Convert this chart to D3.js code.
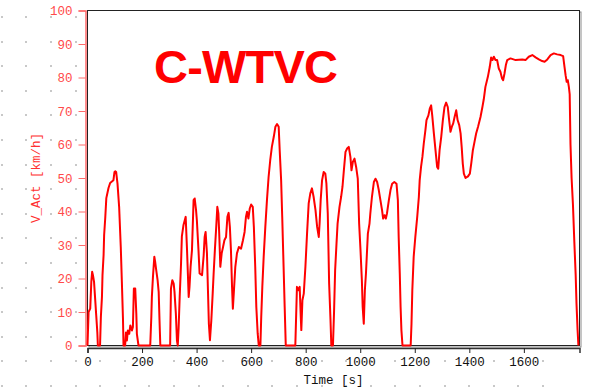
<!DOCTYPE html>
<html><head><meta charset="utf-8">
<script src="https://cdn.jsdelivr.net/npm/d3@7"></script>
<style>html,body{margin:0;padding:0;background:#fff;}svg{display:block;}</style>
</head><body>
<svg id="c" width="596" height="389"></svg>
<script>
const timeS = [0,2,4,10,14,17,20,24,28,32,36,38,46,49,53,55,59,61,65,69,77,83,95,99,102,105,110,116,122,126,130,132,138,141,144.5,148,153,157,163,166.5,170,175,179,181,187,230,234,236,240,245,248,252,257,261,264,267,303,306,311,316,319,324,328,331,334,338,343,346,352,360,365,368,371,374,378,383,389,393,398,401,407,411,420,426,429.5,433,438,442,445,449,454,459,462.5,467,472,476,480,483,487,492,497,502,508,513,517.5,522,526,530,533,537,542,548,555,563,570,576,581,585,590,595,600,606,610,615,619,624,628,634,637,641,646,652,658,664,670,676,683,689,695,701,705,710,714,719,723,727,762,768,774,778,782,784,788,793,799,805,811,817,823,829,836,842,848,851,855,860,866,872,876,881,886,891,894,900,904,908,913,917,924,930,935,940,946,952,958,964,968,973,979,985,991,996,1001,1006,1009,1013,1017,1021,1028,1034,1037,1043,1050,1056,1062,1068,1074,1080,1084,1089,1094,1098,1105,1111,1117,1125,1133,1138,1141,1145,1148,1151,1155,1185,1188,1191,1196,1202,1209,1215,1218,1223,1228,1233,1239,1243,1250,1255,1260,1264,1270,1276,1282,1286,1291,1297,1303,1309,1315,1321,1326,1331,1336,1341,1346,1352,1357,1363,1368,1372,1376,1380,1386,1395,1402,1407,1413,1419,1425,1432,1441,1448,1453,1459,1468,1475,1480,1485,1490,1496,1502,1508,1514,1520,1524,1529,1534,1539,1551,1570,1594,1606,1618,1631,1643,1655,1667,1676,1686,1698,1710,1722,1735,1744,1749,1753,1757,1761,1765,1768,1771,1775,1780,1785,1790,1793,1797,1800];
const speedKmh = [0,5,10,11,19,22,21,19,14,9,4,0,0,8.5,14.5,21,27,33,38,44,47,48.5,49.3,51.8,52,51.8,48.3,41.4,29.4,19,8.2,0,0,3.9,1.5,4.5,3.5,6,4.5,5.5,17,17,9.5,3.5,0,0,8.5,14.5,20.5,26.5,25,22.5,19.5,16,7.6,0,0,17,19.5,18.5,16,9.5,1.5,0,5,14.5,24.5,32.6,36,38.4,28.4,21.5,14.5,17.5,23.5,28.4,43.4,43.9,40.4,37.4,28.4,21.5,21,27,32.4,33.9,27.5,15.5,6.5,1.6,7.5,15.5,21.5,28.4,35.4,41.4,39.4,33.4,23.5,27.5,29.4,31.4,32.4,38.4,39.6,35.4,28.4,17.5,11,16.5,23.5,27.5,29.4,28.9,31.4,33.9,38.4,39.9,37.9,40.9,42.1,41.4,35.4,23.5,11.5,3.6,0,0,8.5,17.5,26.5,35.4,43.4,50.3,55.3,59.3,62.3,65.3,66.1,65.3,57.8,49.3,38.4,23.5,11.5,0,0,17.5,16.5,17.5,8.5,4.6,13.5,15.5,23.5,33.4,42.4,45.4,46.9,44.4,40.4,35.4,32.4,36.4,43.4,49.3,51.8,51.3,48.3,39.4,18.5,7.6,0,0,10,22.5,30.4,36.4,41.4,44.4,47.4,52.3,57.8,58.8,59.3,56.3,52.3,54.8,55.8,53.3,49.8,36.4,28.5,19.5,11.5,6.5,16.5,21.5,33.4,36.4,39.4,44.4,48.8,49.8,48.8,46.4,43.4,40.4,37.9,38.9,37.9,39.4,43.4,46.4,48.3,48.8,48.3,43.4,32.4,21.5,11.5,4.6,0,0,6.5,16.5,26.5,32.4,38.4,44.4,49.3,53.3,56.3,60.3,64.3,67.3,68.7,70.7,71.7,68.7,63.3,58.3,53.3,52.8,58.3,62.3,67.3,71.2,72.5,71.2,67.3,63.8,65.3,66.3,68.2,70.2,67.3,65.8,63.3,59.3,54.3,51.3,50,50.5,51.3,54.3,58.3,60.8,63.3,65.3,68.2,71.2,73.5,77.2,80.2,83.2,86,85.2,86.2,85.2,85.2,82.7,81.7,79.7,79.2,81.2,83.7,85.2,85.7,85.2,85.4,85.2,86.2,86.7,86,85.4,84.9,84.7,85.4,86.7,87.2,86.9,86.7,86.4,83.2,80.7,78.7,79.2,77.2,75,60,50,42,31,21,12.5,4.6,0];
const xTicks = [0,200,400,600,800,1000,1200,1400,1600];
const yTicks = [0,10,20,30,40,50,60,70,80,90,100];
const titleText = "C-WTVC";
const xLabel = "Time [s]";
const yLabel = "V_Act [km/h]";

const svg = d3.select("#c");
const L = 87.5, R = 579.5, T = 10.5, B = 345.5;
const x = d3.scaleLinear().domain([0, 1804]).range([L, R]);
const y = d3.scaleLinear().domain([0, 100]).range([B, T]);

// background dot grid
const dots = svg.append("g");
for (let gx = 543; gx > 0; gx -= 24.6) {
  for (let gy = 386; gy > 5; gy -= 24.6) {
    dots.append("rect").attr("x", Math.round(gx) - 1).attr("y", Math.round(gy) - 1)
      .attr("width", 2).attr("height", 2).attr("fill", "#c8c8c8");
  }
}

// plot background + shadow
svg.append("rect").attr("x", L + 1.5).attr("y", T + 1.5).attr("width", R - L).attr("height", B - T)
  .attr("fill", "none").attr("stroke", "#8a8a8a").attr("stroke-width", 1);
svg.append("rect").attr("x", L).attr("y", T).attr("width", R - L).attr("height", B - T)
  .attr("fill", "#fff").attr("stroke", "#222").attr("stroke-width", 1);

const mono = "'Liberation Mono', 'DejaVu Sans Mono', monospace";

// x axis
const xAxis = svg.append("g").attr("transform", `translate(0,${B + 2.5})`)
  .call(d3.axisBottom(x).tickValues(xTicks).tickSize(5).tickPadding(4).tickFormat(d3.format("d")));
xAxis.select(".domain").attr("stroke", "#333").attr("stroke-width", 1.5);
xAxis.selectAll(".tick line").attr("stroke", "#222");
xAxis.selectAll("text").attr("fill", "#111").style("font-family", mono).style("font-size", "12.5px");

// y axis
const yAxis = svg.append("g").attr("transform", `translate(${L - 2},0)`)
  .call(d3.axisLeft(y).tickValues(yTicks).tickSize(7).tickPadding(6).tickFormat(d3.format("d")));
yAxis.select(".domain").attr("stroke", "#ff6a6a").attr("stroke-width", 1.5);
yAxis.selectAll(".tick line").attr("stroke", "#ff6a6a");
yAxis.selectAll("text").attr("fill", "#ff4a4a").style("font-family", mono).style("font-size", "12.5px");

// speed line
const line = d3.line().x((d, i) => x(timeS[i])).y(d => y(d));
svg.append("path").datum(speedKmh).attr("d", line)
  .attr("fill", "none").attr("stroke", "#ff0000").attr("stroke-width", 2).attr("stroke-linejoin", "round");

// title
svg.append("text").attr("x", 154).attr("y", 83).text(titleText)
  .attr("fill", "#ff0000").style("font-family", "'Liberation Sans', Arial, sans-serif")
  .style("font-weight", "bold").style("font-size", "47px").style("letter-spacing", "-0.8px");

// axis labels
svg.append("text").attr("x", (L + R) / 2).attr("y", 384).attr("text-anchor", "middle").text(xLabel)
  .attr("fill", "#111").style("font-family", mono).style("font-size", "12.5px");
svg.append("text").attr("transform", `translate(40,${(T + B) / 2}) rotate(-90)`).attr("text-anchor", "middle").text(yLabel)
  .attr("fill", "#ff3030").style("font-family", mono).style("font-size", "12.5px");
</script>
</body></html>
